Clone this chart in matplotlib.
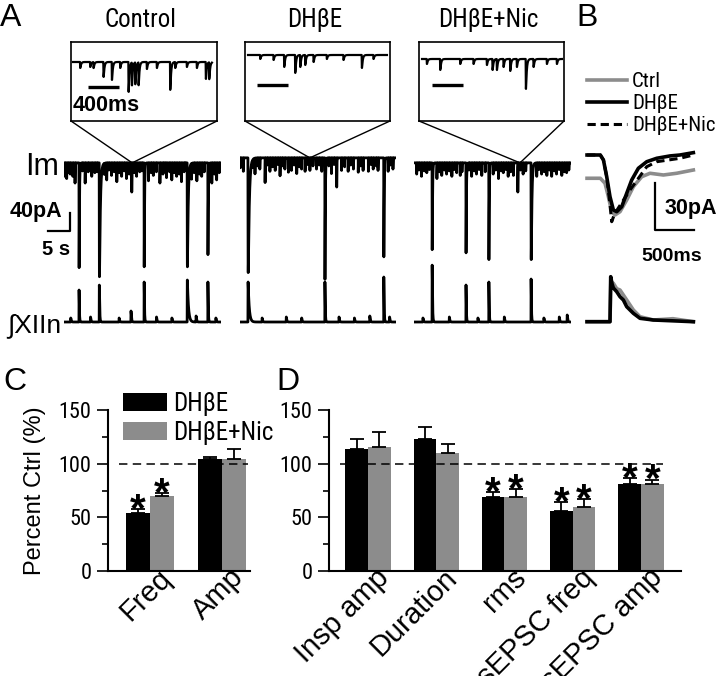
import numpy as np
import matplotlib
matplotlib.use("Agg")
import matplotlib.pyplot as plt
from matplotlib import font_manager as fm
from matplotlib.patches import ConnectionPatch
from matplotlib.transforms import ScaledTranslation

W, H = 720, 676
REG = ["Liberation Sans", "DejaVu Sans"]
GRAY = "#8c8c8c"


def pick_narrow():
    # the figure uses a condensed sans; fall back to a shrunken Liberation Sans
    for fam, stretch in (("Liberation Sans Narrow", "normal"),
                         ("Roboto Condensed", "normal"),
                         ("Noto Sans", "condensed")):
        try:
            path = fm.findfont(fm.FontProperties(family=fam, stretch=stretch),
                               fallback_to_default=False)
        except ValueError:
            continue
        if fam.endswith(("Narrow", "Condensed")) or "ondensed" in path:
            return [fam, "DejaVu Sans"], stretch, 1.0
    return REG, "normal", 0.85


NARROW, NSTRETCH, NSCALE = pick_narrow()
plt.rcParams["font.family"] = NARROW
plt.rcParams["font.stretch"] = NSTRETCH

# ---------------- panel A: long recordings (s, pA) ----------------
conditions = ["Control", "DH\u03b2E", "DH\u03b2E+Nic"]
rec_len = [35.7, 35.5, 35.7]

# inspiratory currents (Im) and matching XIIn bursts
insp_t = [[3.4, 8.0, 18.2, 28.0, 32.7], [1.8, 19.3, 32.7], [4.1, 11.8, 17.0, 26.6]]
insp_amp = [[233, 253, 231, 231, 204], [255, 270, 220], [193, 200, 215, 215]]
insp_w = [[0.07, 0.2, 0.07, 0.18, 0.07], [0.25, 0.07, 0.07], [0.07, 0.07, 0.07, 0.15]]
xii_amp = [[32, 37, 40, 42, 40], [40, 40, 45], [57, 37, 40, 43]]
xii_w = [[0.07, 0.08, 0.07, 0.25, 0.07], [0.25, 0.07, 0.07], [0.08, 0.07, 0.07, 0.07]]

# spontaneous EPSCs on the Im trace
epsc_t = [
    [0.2, 0.6, 1.0, 1.4, 2.0, 2.5, 4.8, 5.5, 6.3, 7.0, 9.2, 9.7, 10.8, 11.4, 12.0,
     12.6, 13.1, 13.7, 14.2, 14.8, 15.4, 16.0, 16.5, 17.2, 19.2, 19.8, 20.3, 21.0,
     21.8, 22.5, 23.3, 24.0, 24.5, 25.1, 25.6, 26.2, 26.7, 27.3, 29.0, 29.6, 30.2,
     30.8, 31.3, 31.9, 33.6, 34.2, 34.7, 35.3, 4.2, 7.5, 10.2, 17.7, 22.9, 27.6],
    [0.1, 0.75, 3.4, 4.5, 5.7, 6.8, 8.0, 9.1, 10.2, 11.0, 11.7, 12.9, 14.0, 14.8,
     15.9, 17.4, 18.6, 20.8, 22.0, 23.1, 24.6, 25.8, 26.9, 28.0, 29.2, 30.3, 31.4,
     33.7, 34.8, 2.8, 4.0, 6.2, 7.4, 8.6, 9.6, 12.3, 13.5, 15.3, 16.6, 18.0, 20.2,
     21.4, 23.8, 25.2, 27.5, 29.8, 31.0, 34.2],
    [0.6, 1.7, 2.9, 5.2, 6.3, 7.4, 8.6, 9.7, 10.5, 13.1, 14.2, 15.4, 18.0, 19.2,
     20.3, 21.4, 22.6, 23.6, 24.8, 27.9, 29.0, 30.2, 31.3, 32.4, 33.6, 34.7, 1.1,
     2.3, 3.5, 5.8, 6.9, 8.0, 9.2, 10.9, 12.5, 13.7, 14.8, 16.2, 18.6, 19.8, 20.9,
     22.0, 24.2, 25.4, 28.4, 29.6, 30.8, 31.9, 33.0, 34.2, 35.2],
]
epsc_amp = [
    [30, 35, 22, 25, 30, 45, 45, 20, 30, 22, 25, 38, 28, 20, 42,
     22, 30, 18, 35, 25, 65, 22, 30, 20, 40, 22, 28, 20,
     45, 25, 33, 20, 38, 22, 30, 25, 42, 20, 35, 22, 40,
     25, 30, 20, 45, 25, 38, 22, 18, 20, 16, 18, 20, 16],
    [22, 30, 35, 25, 55, 30, 28, 40, 25, 32, 28, 35, 25, 30,
     28, 25, 30, 35, 65, 28, 30, 25, 32, 28, 30, 25, 28,
     30, 25, 15, 18, 16, 20, 15, 18, 16, 20, 15, 18, 16, 18,
     15, 20, 16, 18, 15, 18, 16],
    [25, 30, 22, 35, 28, 25, 30, 22, 28, 30, 25, 28, 25, 35,
     22, 30, 28, 65, 25, 30, 25, 28, 30, 25, 28, 22, 16,
     18, 15, 20, 16, 18, 15, 20, 16, 18, 15, 20, 16, 18, 15,
     20, 16, 18, 15, 20, 16, 18, 15, 20, 16],
]
# small bumps on the XIIn baseline
xii_small_t = [[1.5, 6.0, 12.5, 15.2, 21.0, 24.5, 30.0, 34.5],
               [5.0, 10.5, 14.0, 22.5, 26.0, 29.5, 34.0],
               [2.0, 8.0, 14.5, 20.5, 29.5, 33.0, 34.8]]
xii_small_amp = [[4, 5, 4, 11, 5, 4, 6, 4],
                 [4, 5, 4, 5, 4, 6, 5],
                 [4, 5, 4, 5, 4, 5, 7]]

# ---------------- insets: expanded Im (ms, arb.) ----------------
inset_t = [
    [116, 245, 288, 417, 525, 632, 740, 783, 826, 869, 976, 1105, 1277, 1342, 1492,
     1621, 1737, 1780],
    [194, 366, 503, 645, 710, 774, 882, 1053, 1268, 1505, 1655],
    [99, 271, 529, 701, 873, 946, 1002, 1088, 1174, 1260, 1376, 1475, 1647, 1776],
]
inset_amp = [
    [6, 5, 6, 15, 18, 6, 30, 23, 22, 23, 7, 6, 28, 6, 5, 6, 17, 17],
    [4, 5, 12, 18, 12, 10, 7, 4, 5, 13, 4],
    [5, 11, 5, 5, 6, 11, 11, 8, 12, 8, 30, 8, 5, 5],
]
inset_span = [(26, 1819), (39, 1832), (39, 1845)]

# ---------------- panel B: averaged events (ms, pA) ----------------
b_ctrl_t = [0, 170, 230, 273, 316, 358, 422, 508, 593, 700, 806, 977, 1147, 1361]
b_ctrl_i = [-14.9, -14.9, -18.1, -26.7, -36.3, -38.4, -36.3, -28.8, -20.3, -13.9,
            -11.7, -12.8, -11.7, -9.6]
b_dhbe_t = [0, 170, 210, 252, 294, 337, 380, 444, 508, 572, 657, 764, 892, 1062, 1190, 1361]
b_dhbe_i = [0, 0, -3.2, -13.9, -26.7, -35.2, -36.3, -33.1, -24.5, -16.0, -8.5, -4.3,
            -2.1, -0.6, 0, 1.5]
b_nic_t = [0, 170, 210, 252, 290, 316, 350, 400, 550, 764, 892, 1190, 1361]
b_nic_i = [0, 0, -3.2, -14, -30, -42.7, -38, -34, -22.4, -7.5, -4.3, -2.1, 0]
b_xii_dhbe_t = [0, 294, 303, 320, 337, 380, 422, 465, 508, 593, 678, 849, 1361]
b_xii_dhbe = [0, 0, 45, 38, 33.7, 30, 25, 21.7, 15, 8.4, 3.4, 1.7, 0]
b_xii_ctrl_t = [0, 294, 305, 337, 380, 422, 508, 593, 678, 849, 1100, 1361]
b_xii_ctrl = [0, 0, 40, 38.4, 33, 31.7, 21.7, 11.7, 5, 1.7, 3, 0]

# ---------------- panels C and D: percent of control ----------------
c_labels = ["Freq", "Amp"]
c_dhbe = [54, 104]
c_dhbe_err = [3.7, 2.5]
c_nic = [70, 104]
c_nic_err = [2.5, 9.5]
c_sig = [True, False]

d_labels = ["Insp amp", "Duration", "rms", "sEPSC freq", "sEPSC amp"]
d_dhbe = [113.6, 122.6, 68.5, 56, 81]
d_dhbe_err = [9, 11.8, 4.7, 8.4, 5.2]
d_nic = [115.2, 109.9, 68.5, 59.7, 81]
d_nic_err = [14.6, 8.4, 7.5, 7.5, 4]
d_sig = [False, False, True, True, True]


def pulse(t, t0, tr, td):
    s = t - t0
    out = np.zeros_like(t)
    m = s >= 0
    sp = tr * np.log((tr + td) / tr)
    peak = (1 - np.exp(-sp / tr)) * np.exp(-sp / td)
    out[m] = (1 - np.exp(-s[m] / tr)) * np.exp(-s[m] / td) / peak
    return out


def px_axes(fig, x0, y0, x1, y1):
    ax = fig.add_axes([x0 / W, 1 - y1 / H, (x1 - x0) / W, (y1 - y0) / H])
    ax.patch.set_alpha(0)
    return ax


def nfs(size):
    return size * NSCALE


fig = plt.figure(figsize=(W / 100, H / 100), dpi=100)

trace_x = [(64, 221), (240, 396), (414, 571)]
im_top = [148, 143, 148]
boxes = [(71, 42, 217, 121), (245, 42, 390, 121), (419, 42, 564, 121)]
box_base = [20, 13, 17]
bar_pos = [(219, 619, -25), (155, 555, -30), (168, 568, -26)]
title_x = [141, 315, 488]
zoom_target = [15.5, 15.9, 24.1]

for i in range(3):
    x0, x1 = trace_x[i]
    t = np.arange(0, rec_len[i], 0.005)
    im = np.zeros_like(t)
    for t0, a, w in zip(insp_t[i], insp_amp[i], insp_w[i]):
        im -= a * pulse(t, t0, 0.03, w)
    for t0, a in zip(epsc_t[i], epsc_amp[i]):
        im -= a * pulse(t, t0, 0.006, 0.03)
    xii = np.zeros_like(t)
    for t0, a, w in zip(insp_t[i], xii_amp[i], xii_w[i]):
        xii += a * pulse(t, t0, 0.015, w)
    for t0, a in zip(xii_small_t[i], xii_small_amp[i]):
        xii += a * pulse(t, t0, 0.02, 0.1)

    ax_im = px_axes(fig, x0, im_top[i], x1, im_top[i] + 140)
    ax_im.plot(t, im, color="k", lw=2.0)
    ax_im.set_xlim(0, rec_len[i])
    ax_im.set_ylim(-278, 33)
    ax_im.axis("off")

    ax_x = px_axes(fig, x0, 260, x1, 330)
    ax_x.plot(t, xii, color="k", lw=2.0)
    ax_x.set_xlim(0, rec_len[i])
    ax_x.set_ylim(-8, 62)
    ax_x.axis("off")

    # zoomed inset
    bx0, by0, bx1, by1 = boxes[i]
    span_ms = (bx1 - bx0) * 12.9
    ts = np.arange(inset_span[i][0], inset_span[i][1], 1.0)
    yi = np.zeros_like(ts)
    for t0, a in zip(inset_t[i], inset_amp[i]):
        yi -= a * pulse(ts, t0, 2.0, 10.0)
    ax_in = px_axes(fig, bx0, by0, bx1, by1)
    ax_in.plot(ts, yi, color="k", lw=1.6)
    ax_in.plot(bar_pos[i][:2], [bar_pos[i][2]] * 2, color="k", lw=2.4,
               solid_capstyle="butt")
    ax_in.set_xlim(0, span_ms)
    ax_in.set_ylim(-(by1 - by0 - box_base[i]), box_base[i])
    ax_in.set_xticks([])
    ax_in.set_yticks([])
    for sp in ax_in.spines.values():
        sp.set_linewidth(1.2)
    if i == 0:
        ax_in.text(26, -49, "400ms", fontsize=15.5, fontweight="bold",
                   family=REG, va="baseline", ha="left")
    for corner in (0, 1):
        con = ConnectionPatch(xyA=(corner, 0), coordsA=ax_in.transAxes,
                              xyB=(zoom_target[i], 0), coordsB=ax_im.transData,
                              color="k", lw=1.0)
        fig.add_artist(con)

    fig.text(title_x[i] / W, 1 - 27 / H, conditions[i], fontsize=nfs(18),
             ha="center", va="baseline")

    if i == 0:
        # scale bar 40 pA / 5 s
        ax_im.plot([1.36, 1.36, -3.64], [-111, -151, -151], color="k", lw=1.6,
                   clip_on=False)
        ax_im.text(-0.5, -131, "40pA", fontsize=15.5, fontweight="bold",
                   family=REG, ha="right", va="bottom")
        ax_im.text(1.36, -205, "5 s", fontsize=14.5, fontweight="bold",
                   family=REG, ha="right", va="baseline")

fig.text(25 / W, 1 - 175 / H, "Im", fontsize=22, family=REG, ha="left",
         va="baseline")
fig.text(7 / W, 1 - 332 / H, "\u222bXIIn", fontsize=19, family=REG, ha="left",
         va="baseline")

# ---------------- panel B ----------------
ax_b = px_axes(fig, 580, 140, 700, 262)
l_ctrl, = ax_b.plot(b_ctrl_t, b_ctrl_i, color=GRAY, lw=2.6, label="Ctrl")
l_dhbe, = ax_b.plot(b_dhbe_t, b_dhbe_i, color="k", lw=2.6, label="DH\u03b2E")
l_nic, = ax_b.plot(b_nic_t, b_nic_i, color="k", lw=2.2, ls=(0, (2.7, 1.6)),
                   label="DH\u03b2E+Nic")
ax_b.set_xlim(-90, 1446)
ax_b.set_ylim(-68.5, 9.6)
ax_b.axis("off")
ax_b.plot([870, 870, 1370], [-17.9, -48, -48], color="k", lw=1.6)
ax_b.text(998, -34, "30pA", fontsize=15.5, fontweight="bold", family=REG,
          ha="left", va="center")
ax_b.text(1088, -68, "500ms", fontsize=14, fontweight="bold", family=REG,
          ha="center", va="baseline")
b_fs = nfs(15)
ax_b.legend(handles=[l_ctrl, l_dhbe, l_nic], loc="upper left",
            bbox_to_anchor=(587 / W, 1 - 72 / H), bbox_transform=fig.transFigure,
            frameon=False, fontsize=b_fs, handlelength=40 / (b_fs * 1.389),
            handletextpad=0.25, labelspacing=0.15, borderpad=0, borderaxespad=0)

ax_bx = px_axes(fig, 580, 265, 700, 330)
ax_bx.plot(b_xii_ctrl_t, b_xii_ctrl, color=GRAY, lw=2.6)
ax_bx.plot(b_xii_dhbe_t, b_xii_dhbe, color="k", lw=2.6)
ax_bx.set_xlim(-90, 1446)
ax_bx.set_ylim(-8.3, 56.7)
ax_bx.axis("off")


# ---------------- panels C and D ----------------
def bar_panel(ax, labels, v1, e1, v2, e2, sig, xmin, xmax, dash_lim):
    x = np.arange(len(labels))
    w = 0.333
    b1 = ax.bar(x - w / 2, v1, w, color="k", label="DH\u03b2E", zorder=2)
    b2 = ax.bar(x + w / 2, v2, w, color=GRAY, label="DH\u03b2E+Nic", zorder=2)
    ax.errorbar(x - w / 2, v1, yerr=[np.zeros(len(v1)), e1], fmt="none",
                ecolor="k", elinewidth=1.3, capsize=5, capthick=1.3, zorder=3)
    ax.errorbar(x + w / 2, v2, yerr=[np.zeros(len(v2)), e2], fmt="none",
                ecolor="k", elinewidth=1.3, capsize=5, capthick=1.3, zorder=3)
    ax.axhline(100, xmin=dash_lim[0], xmax=dash_lim[1], color="k", lw=1.1,
               dashes=(5.5, 3.5), zorder=4)
    for j, s in enumerate(sig):
        if s:
            for xc, top in ((x[j] - w / 2, v1[j] + e1[j]), (x[j] + w / 2, v2[j] + e2[j])):
                ax.annotate("*", xy=(xc, top + 9), xytext=(0, -0.55 * 29),
                            textcoords="offset points", ha="center",
                            va="baseline", fontsize=29, fontweight="bold",
                            family=REG)
    ax.set_xlim(xmin, xmax)
    ax.set_ylim(0, 150)
    ax.set_yticks([0, 50, 100, 150])
    ax.set_yticks([25, 75, 125], minor=True)
    ax.tick_params(axis="y", which="major", length=8, width=1.2,
                   labelsize=nfs(16), pad=4)
    ax.tick_params(axis="y", which="minor", length=4, width=1.2)
    ax.set_xticks(x)
    ax.set_xticklabels(labels, rotation=45, ha="right", va="top",
                       rotation_mode="anchor", family=REG, fontsize=21)
    ax.tick_params(axis="x", length=0, pad=1)
    shift = ScaledTranslation(0.07, 0.09, ax.figure.dpi_scale_trans)
    for lab in ax.get_xticklabels():
        lab.set_transform(lab.get_transform() + shift)
    for side in ("top", "right"):
        ax.spines[side].set_visible(False)
    for side in ("left", "bottom"):
        ax.spines[side].set_linewidth(1.5)
    return b1, b2


ax_c = px_axes(fig, 108, 410, 250, 571)
bc1, bc2 = bar_panel(ax_c, c_labels, c_dhbe, c_dhbe_err, c_nic, c_nic_err, c_sig,
                     -0.583, 1.389, (0.077, 0.986))
ax_c.set_ylabel("Percent Ctrl (%)", family=REG, fontsize=17)
ax_c.yaxis.set_label_coords(-0.44, 0.5)
c_fs = nfs(18)
ax_c.legend(handles=[bc1, bc2], loc="upper left",
            bbox_to_anchor=(123 / W, 1 - 392 / H), bbox_transform=fig.transFigure,
            frameon=False, fontsize=c_fs, handlelength=44 / (c_fs * 1.389),
            handleheight=18 / (c_fs * 1.389), handletextpad=0.25,
            labelspacing=0.2, borderpad=0, borderaxespad=0)

ax_d = px_axes(fig, 329, 410, 681, 571)
bar_panel(ax_d, d_labels, d_dhbe, d_dhbe_err, d_nic, d_nic_err, d_sig,
          -0.571, 4.586, (0.031, 0.949))

for letter, lx, ly in (("A", 0, 26), ("B", 576, 26), ("C", 3, 390), ("D", 276, 390)):
    fig.text(lx / W, 1 - ly / H, letter, fontsize=23, family=REG,
             ha="left", va="baseline")

fig.savefig("out.png", dpi=100)
